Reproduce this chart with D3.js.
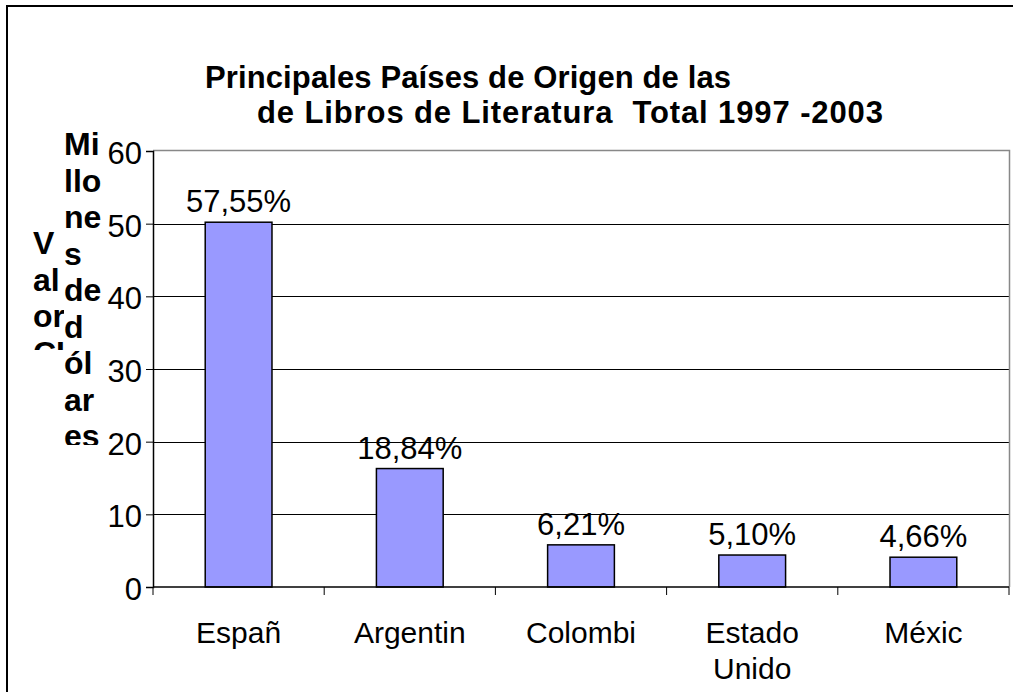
<!DOCTYPE html>
<html>
<head>
<meta charset="utf-8">
<script src="https://cdn.jsdelivr.net/npm/d3@7"></script>
<style>
  html, body { margin: 0; padding: 0; background: #fff; }
  svg { display: block; }
  text { font-family: "Liberation Sans", Arial, sans-serif; fill: #000; }
</style>
</head>
<body>
<svg id="chart" width="1013" height="692"></svg>
<script>
// ---- data ----
const categories = ["Españ", "Argentin", "Colombi", "Estado Unido", "Méxic"];
const values = [50.2, 16.3, 5.8, 4.4, 4.1];
const pctLabels = ["57,55%", "18,84%", "6,21%", "5,10%", "4,66%"];
const yTicks = [0, 10, 20, 30, 40, 50, 60];
const titleLines = ["Principales Países de Origen de las", "de Libros de Literatura  Total 1997 -2003"];
const yTitleCol1 = ["V", "al", "or", "CI"];
const yTitleCol2 = ["Mi", "llo", "ne", "s", "de", "d", "ól", "ar", "es"];

// ---- layout ----
const W = 1013, H = 692;
const plot = { left: 153, right: 1009, top: 151, bottom: 587 };

const svg = d3.select("#chart");

// outer frame (left + top only visible)
svg.append("path")
  .attr("d", `M7,${H} L7,6 L${W},6`)
  .attr("fill", "none").attr("stroke", "#000").attr("stroke-width", 2);

const x = d3.scaleBand().domain(categories).range([plot.left, plot.right]).padding(0);
const y = d3.scaleLinear().domain([0, 60]).range([plot.bottom, plot.top]);

// gridlines
svg.append("g")
  .selectAll("line")
  .data(yTicks.filter(t => t > 0 && t < 60))
  .join("line")
  .attr("x1", plot.left).attr("x2", plot.right)
  .attr("y1", d => Math.round(y(d)) + 0.5).attr("y2", d => Math.round(y(d)) + 0.5)
  .attr("stroke", "#000").attr("stroke-width", 1);

// plot area top & right border (grey)
svg.append("path")
  .attr("d", `M${plot.left},${y(60) - 0.5} L${plot.right + 0.5},${y(60) - 0.5} L${plot.right + 0.5},${plot.bottom}`)
  .attr("fill", "none").attr("stroke", "#888").attr("stroke-width", 1.5);

// bars
const barW = x.bandwidth() * 0.39;
svg.append("g")
  .selectAll("rect")
  .data(categories)
  .join("rect")
  .attr("x", d => x(d) + x.bandwidth() / 2 - barW / 2)
  .attr("width", barW)
  .attr("y", (d, i) => y(values[i]))
  .attr("height", (d, i) => y(0) - y(values[i]))
  .attr("fill", "#9999ff")
  .attr("stroke", "#000")
  .attr("stroke-width", 1.5);

// percentage labels
svg.append("g")
  .selectAll("text")
  .data(categories)
  .join("text")
  .attr("x", d => x(d) + x.bandwidth() / 2)
  .attr("y", (d, i) => y(values[i]) - 10)
  .attr("text-anchor", "middle")
  .attr("font-size", 31)
  .text((d, i) => pctLabels[i]);

// y axis
const yAxis = d3.axisLeft(y).tickValues(yTicks).tickSize(7).tickPadding(4).tickFormat(d3.format("d"));
const gy = svg.append("g").attr("transform", `translate(${plot.left},0)`).call(yAxis);
gy.select(".domain").attr("stroke", "#000").attr("stroke-width", 1.5);
gy.selectAll(".tick line").attr("stroke", "#000").attr("stroke-width", 1);
gy.selectAll(".tick text")
  .attr("font-size", 31)
  .attr("font-family", "Liberation Sans, Arial, sans-serif")
  .attr("fill", "#000")
  .attr("dy", "0.4em");

// x axis baseline + ticks at band edges
svg.append("line")
  .attr("x1", plot.left).attr("x2", plot.right)
  .attr("y1", y(0)).attr("y2", y(0))
  .attr("stroke", "#000").attr("stroke-width", 1.5);
const edges = categories.map(c => x(c)).concat([x.range()[1]]);
svg.append("g").selectAll("line")
  .data(edges).join("line")
  .attr("x1", d => d).attr("x2", d => d)
  .attr("y1", y(0)).attr("y2", y(0) + 8)
  .attr("stroke", "#000").attr("stroke-width", 1);

// category labels
const cat = svg.append("g").selectAll("text")
  .data(categories).join("text")
  .attr("text-anchor", "middle")
  .attr("font-size", 30)
  .attr("y", 643);
cat.each(function (d) {
  const lines = d.split(" ");
  const t = d3.select(this);
  lines.forEach((ln, i) => {
    t.append("tspan")
      .attr("x", x(d) + x.bandwidth() / 2)
      .attr("dy", i === 0 ? 0 : 36)
      .text(ln);
  });
});

// title
const title = svg.append("g").attr("font-weight", "bold").attr("font-size", 31);
title.append("text").attr("x", 205).attr("y", 88)
  .attr("textLength", 526).attr("lengthAdjust", "spacing")
  .text(titleLines[0]);
title.append("text").attr("x", 257).attr("y", 123)
  .style("white-space", "pre")
  .attr("textLength", 626).attr("lengthAdjust", "spacing")
  .text(titleLines[1]);

// y axis title (wrapped, clipped)
const defs = svg.append("defs");
defs.append("clipPath").attr("id", "clip1")
  .append("rect").attr("x", 20).attr("y", 200).attr("width", 44).attr("height", 150);
defs.append("clipPath").attr("id", "clip2")
  .append("rect").attr("x", 60).attr("y", 120).attr("width", 48).attr("height", 325);

svg.append("g").attr("clip-path", "url(#clip1)")
  .selectAll("text").data(yTitleCol1).join("text")
  .attr("x", 33)
  .attr("y", (d, i) => 254 + i * 36.5)
  .attr("font-weight", "bold").attr("font-size", 32)
  .text(d => d);

svg.append("g").attr("clip-path", "url(#clip2)")
  .selectAll("text").data(yTitleCol2).join("text")
  .attr("x", 64)
  .attr("y", (d, i) => 155 + i * 36.5)
  .attr("font-weight", "bold").attr("font-size", 32)
  .text(d => d);
</script>
</body>
</html>
